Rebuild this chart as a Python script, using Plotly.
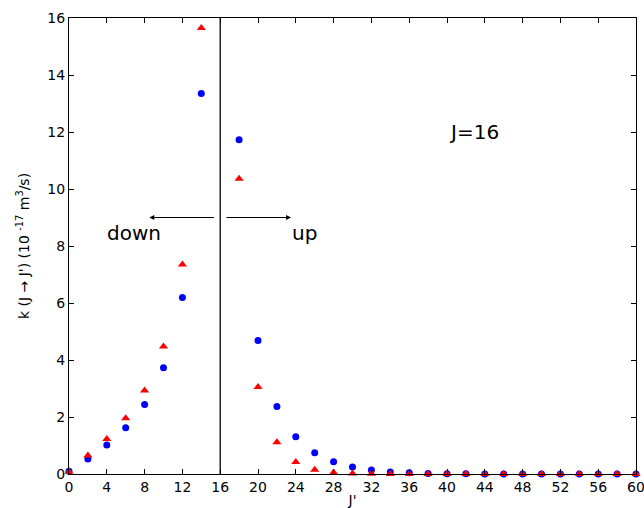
import plotly.graph_objects as go

j_prime = [0, 2, 4, 6, 8, 10, 12, 14, 18, 20, 22, 24, 26, 28, 30, 32, 34, 36, 38,
           40, 42, 44, 46, 48, 50, 52, 54, 56, 58, 60]
k_blue = [0.10, 0.53, 1.02, 1.62, 2.44, 3.73, 6.19, 13.35, 11.73, 4.68, 2.37, 1.31,
          0.75, 0.43, 0.25, 0.14, 0.07, 0.04, 0.02, 0.01, 0.01, 0.0, 0.0, 0.0, 0.0,
          0.0, 0.0, 0.0, 0.0, 0.0]
k_red = [0.08, 0.65, 1.23, 1.96, 2.93, 4.47, 7.35, 15.65, 10.36, 3.05, 1.11, 0.42,
         0.15, 0.05, 0.02, 0.01, 0.0, 0.0, 0.0, 0.0, 0.0, 0.0, 0.0, 0.0, 0.0,
         0.0, 0.0, 0.0, 0.0, 0.0]
x_ticks = list(range(0, 61, 4))
y_ticks = list(range(0, 17, 2))
J = 16

fig = go.Figure()
fig.add_trace(go.Scatter(x=j_prime, y=k_blue, mode="markers", cliponaxis=False,
                         marker=dict(symbol="circle", color="blue", size=7),
                         showlegend=False))
fig.add_trace(go.Scatter(x=j_prime, y=k_red, mode="markers", cliponaxis=False,
                         marker=dict(symbol="triangle-up", color="red", size=8),
                         showlegend=False))

fig.add_shape(type="line", x0=J, x1=J, y0=0, y1=16, xref="x", yref="y",
              line=dict(color="black", width=1.3))

for x0, x1 in [(15.5, 8.5), (16.5, 23.5)]:
    fig.add_annotation(x=x1, y=9, ax=x0, ay=9, xref="x", yref="y", axref="x", ayref="y",
                       text="", showarrow=True, arrowhead=2, arrowsize=1, arrowwidth=1,
                       arrowcolor="black")

font_txt = dict(family="DejaVu Sans", size=20, color="black")
fig.add_annotation(x=3.8, y=8.45, xref="x", yref="y", text="down", showarrow=False,
                   xanchor="left", yanchor="middle", font=font_txt)
fig.add_annotation(x=23.4, y=8.45, xref="x", yref="y", text="up", showarrow=False,
                   xanchor="left", yanchor="middle", font=font_txt)
fig.add_annotation(x=40.0, y=12.0, xref="x", yref="y", text="J=16", showarrow=False,
                   xanchor="left", yanchor="middle", font=font_txt)

axis_common = dict(showline=True, linecolor="black", linewidth=1.3, mirror="ticks",
                   ticks="inside", ticklen=5, tickcolor="black", showgrid=False,
                   zeroline=False, automargin=False, ticklabeloverflow="allow",
                   tickfont=dict(family="DejaVu Sans", size=14, color="black"))

fig.update_layout(
    width=644, height=508, autosize=False,
    margin=dict(l=69, r=8, t=18, b=34),
    plot_bgcolor="white", paper_bgcolor="white",
    xaxis=dict(range=[0, 60], tickvals=x_ticks, title=dict(text="J'", standoff=2,
               font=dict(family="DejaVu Sans", size=14, color="black")), **axis_common),
    yaxis=dict(range=[0, 16], tickvals=y_ticks,
               title=dict(text="k (J \u2192 J') (10 <sup>-17</sup> m<sup>3</sup>/s)", standoff=14,
                          font=dict(family="DejaVu Sans", size=14, color="black")),
               **axis_common),
)

fig.write_html("out.html")
